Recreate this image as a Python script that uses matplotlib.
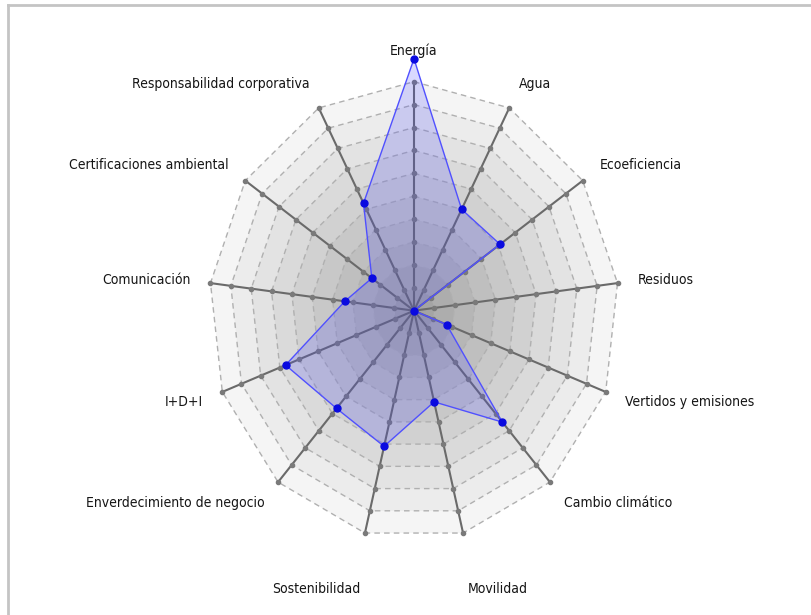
import numpy as np
import matplotlib
matplotlib.use("Agg")
import matplotlib.pyplot as plt
from matplotlib.lines import Line2D

categorias = ["Energía", "Agua", "Ecoeficiencia", "Residuos", "Vertidos y emisiones",
              "Cambio climático", "Movilidad", "Sostenibilidad",
              "Enverdecimiento de negocio", "I+D+I", "Comunicación",
              "Certificaciones ambiental", "Responsabilidad corporativa"]
valores = [11, 5, 5.1, 0, 1.7, 6.5, 4.1, 6.1, 5.7, 6.7, 3.4, 2.5, 5.3]
niveles = list(range(1, 11))

N = len(categorias)
ang = np.arange(N) * 2 * np.pi / N

fig = plt.figure(figsize=(8.11, 6.15), dpi=100)
ax = fig.add_axes([0, 0, 1, 1])
# px por unidad: 20.5 en x, 22.9 en y; centro en (414, 310.7)
ax.set_xlim(-414 / 20.5, (811 - 414) / 20.5)
ax.set_ylim(-(615 - 310.7) / 22.9, 310.7 / 22.9)
ax.axis("off")

def poli(r):
    r = np.asarray(r, dtype=float)
    x = r * np.sin(ang)
    y = r * np.cos(ang)
    return np.append(x, x[0]), np.append(y, y[0])

# bandas de fondo, mas oscuras hacia el centro
for k in niveles[::-1]:
    g = 0.61 + 0.035 * k
    x, y = poli([k] * N)
    ax.fill(x, y, color=(g, g, g), lw=0, zorder=1)

# anillos discontinuos
for k in niveles:
    x, y = poli([k] * N)
    ax.plot(x, y, color="#b0b0b0", lw=1.0, ls=(0, (4, 3)), zorder=2)

# radios con puntos
for a in ang:
    ax.plot([0, 10 * np.sin(a)], [0, 10 * np.cos(a)], color="#6a6a6a", lw=1.5, zorder=3)
    rr = np.array(niveles)
    ax.plot(rr * np.sin(a), rr * np.cos(a), "o", color="#7a7a7a", ms=3, zorder=4)

# serie
x, y = poli(valores)
ax.fill(x, y, color="#4545ff", alpha=0.2, lw=0, zorder=5)
ax.plot(x, y, color="#5050ff", lw=1.0, zorder=6)
ax.plot(x[:-1], y[:-1], "o", color="#0a0ae0", ms=5, zorder=7)

# etiquetas
for nombre, a in zip(categorias, ang):
    s, c = np.sin(a), np.cos(a)
    lr = 12.5 if c < -0.9 else 11.2
    lx = 11.0 * s
    ly = lr * c
    if abs(s) < 1e-6:
        ha, va = "center", "bottom"
        ly = 11.05
    elif s > 0:
        ha, va = "left", "center"
    else:
        ha, va = "right", "center"
    ax.text(lx, ly, nombre, ha=ha, va=va, fontsize=10, color="#151515",
            family="DejaVu Sans", fontstretch="condensed", zorder=8)

# marco
fig.add_artist(Line2D([8 / 811, 1], [1 - 5 / 615, 1 - 5 / 615], color="#c4c4c4", lw=2,
                      transform=fig.transFigure))
fig.add_artist(Line2D([8 / 811, 8 / 811], [0, 1 - 5 / 615], color="#c4c4c4", lw=2,
                      transform=fig.transFigure))

fig.savefig("out.png", dpi=100)
